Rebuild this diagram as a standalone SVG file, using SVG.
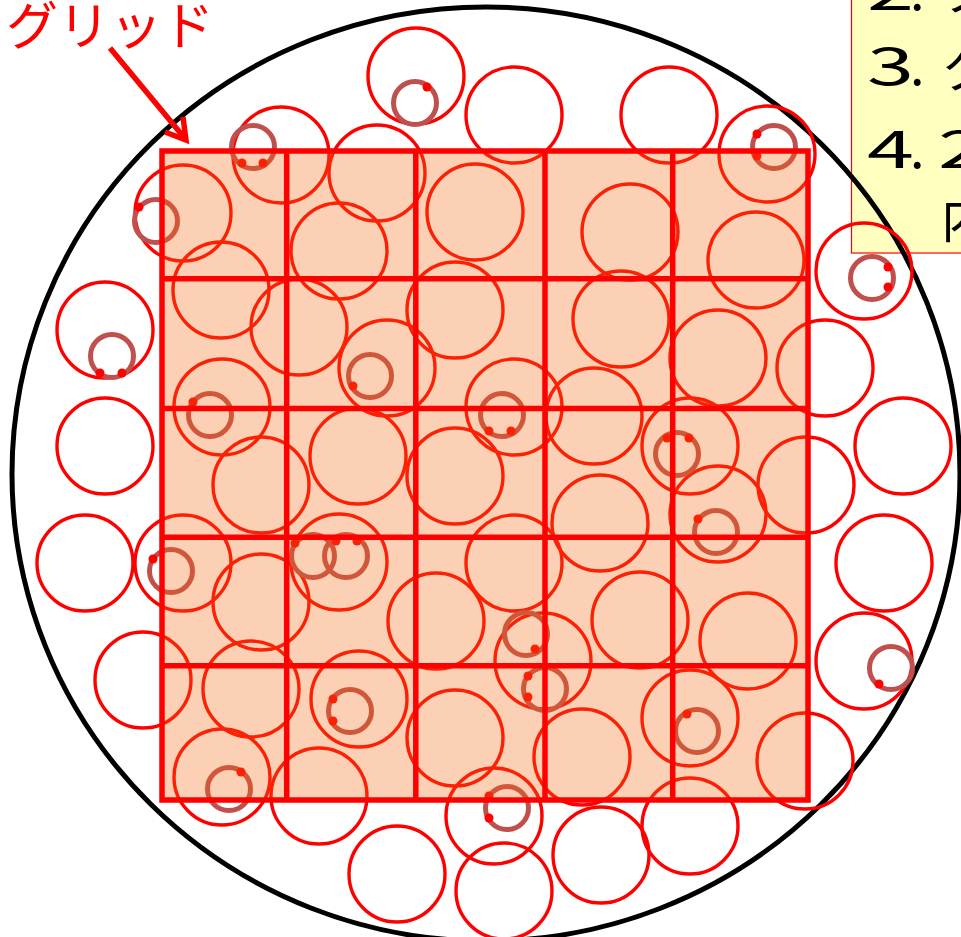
<svg xmlns="http://www.w3.org/2000/svg" width="961" height="937" viewBox="0 0 961 937">
<style>
.big{fill:none;stroke:#FF0000;stroke-width:3.4}
.ring{fill:none;stroke:#C0504D;stroke-width:5}
.dot{fill:#FF0000}
.gl{stroke:#FF0000;stroke-width:5.5;fill:none}
.lst{font-family:"Noto Sans CJK JP","Noto Sans",sans-serif;font-size:52px;fill:#000}
.lbl{font-family:"Noto Sans CJK JP","Noto Sans",sans-serif;font-size:52px;fill:#FF0000}
</style>
<g id="textbox">
<rect x="851.5" y="-10" width="140" height="263" fill="#FFFFC0" stroke="#FF0000" stroke-width="1.2"/>
<text class="lst" x="867" y="10" textLength="47" lengthAdjust="spacingAndGlyphs">2</text>
<text class="lst" x="910" y="10">.</text>
<text class="lst" x="941" y="10">ク</text>
<text class="lst" x="867" y="85" textLength="47" lengthAdjust="spacingAndGlyphs">3</text>
<text class="lst" x="910" y="85">.</text>
<text class="lst" x="941" y="88">ク</text>
<text class="lst" x="867" y="168" textLength="47" lengthAdjust="spacingAndGlyphs">4</text>
<text class="lst" x="910" y="168">.</text>
<text class="lst" x="938" y="168" textLength="47" lengthAdjust="spacingAndGlyphs">2</text>
<text class="lst" x="941" y="238">内</text>
</g>
<ellipse id="wafer" cx="486" cy="474" rx="474" ry="467" fill="none" stroke="#000" stroke-width="5"/>
<g id="circles">
<circle class="big" cx="416" cy="76" r="48"/>
<circle class="big" cx="514" cy="115" r="48"/>
<circle class="big" cx="669" cy="115" r="48"/>
<circle class="big" cx="767" cy="154" r="48"/>
<circle class="big" cx="864" cy="271" r="48"/>
<circle class="big" cx="281" cy="155" r="48"/>
<circle class="big" cx="183" cy="213" r="48"/>
<circle class="big" cx="377" cy="173" r="48"/>
<circle class="big" cx="475" cy="212" r="48"/>
<circle class="big" cx="630" cy="232" r="48"/>
<circle class="big" cx="756" cy="260" r="48"/>
<circle class="big" cx="339" cy="251" r="48"/>
<circle class="big" cx="221" cy="290" r="48"/>
<circle class="big" cx="105" cy="330" r="48"/>
<circle class="big" cx="455" cy="310" r="48"/>
<circle class="big" cx="299" cy="327" r="48"/>
<circle class="big" cx="387" cy="368" r="48"/>
<circle class="big" cx="621" cy="319" r="48"/>
<circle class="big" cx="718" cy="358" r="48"/>
<circle class="big" cx="825" cy="368" r="48"/>
<circle class="big" cx="903" cy="446" r="48"/>
<circle class="big" cx="105" cy="446" r="48"/>
<circle class="big" cx="222" cy="407" r="48"/>
<circle class="big" cx="261" cy="485" r="48"/>
<circle class="big" cx="358" cy="456" r="48"/>
<circle class="big" cx="455" cy="476" r="48"/>
<circle class="big" cx="514" cy="407" r="48"/>
<circle class="big" cx="594" cy="416" r="48"/>
<circle class="big" cx="690" cy="446" r="48"/>
<circle class="big" cx="806" cy="485" r="48"/>
<circle class="big" cx="718" cy="514" r="48"/>
<circle class="big" cx="600" cy="523" r="48"/>
<circle class="big" cx="884" cy="563" r="48"/>
<circle class="big" cx="85" cy="563" r="48"/>
<circle class="big" cx="183" cy="563" r="48"/>
<circle class="big" cx="261" cy="602" r="48"/>
<circle class="big" cx="339" cy="562" r="48"/>
<circle class="big" cx="436" cy="621" r="48"/>
<circle class="big" cx="514" cy="563" r="48"/>
<circle class="big" cx="543" cy="661" r="48"/>
<circle class="big" cx="640" cy="620" r="48"/>
<circle class="big" cx="748" cy="641" r="48"/>
<circle class="big" cx="864" cy="661" r="48"/>
<circle class="big" cx="143" cy="680" r="48"/>
<circle class="big" cx="251" cy="689" r="48"/>
<circle class="big" cx="359" cy="699" r="48"/>
<circle class="big" cx="455" cy="738" r="48"/>
<circle class="big" cx="690" cy="718" r="48"/>
<circle class="big" cx="582" cy="757" r="48"/>
<circle class="big" cx="805" cy="761" r="48"/>
<circle class="big" cx="222" cy="777" r="48"/>
<circle class="big" cx="319" cy="796" r="48"/>
<circle class="big" cx="494" cy="816" r="48"/>
<circle class="big" cx="397" cy="874" r="48"/>
<circle class="big" cx="504" cy="891" r="48"/>
<circle class="big" cx="601" cy="855" r="48"/>
<circle class="big" cx="690" cy="826" r="48"/>
</g>
<g id="rings">
<circle class="ring" cx="415" cy="103" r="21.5"/>
<circle class="ring" cx="774" cy="147" r="21.5"/>
<circle class="ring" cx="872" cy="278" r="21.5"/>
<circle class="ring" cx="253" cy="147" r="21.5"/>
<circle class="ring" cx="156" cy="221" r="21.5"/>
<circle class="ring" cx="112" cy="356" r="21.5"/>
<circle class="ring" cx="370" cy="376" r="21.5"/>
<circle class="ring" cx="210" cy="415" r="21.5"/>
<circle class="ring" cx="502" cy="415" r="21.5"/>
<circle class="ring" cx="677" cy="454" r="21.5"/>
<circle class="ring" cx="716" cy="532" r="21.5"/>
<circle class="ring" cx="171" cy="571" r="21.5"/>
<circle class="ring" cx="313" cy="556" r="21.5"/>
<circle class="ring" cx="346" cy="556" r="21.5"/>
<circle class="ring" cx="526" cy="634" r="21.5"/>
<circle class="ring" cx="545" cy="689" r="21.5"/>
<circle class="ring" cx="891" cy="668" r="21.5"/>
<circle class="ring" cx="350" cy="711" r="21.5"/>
<circle class="ring" cx="697" cy="731" r="21.5"/>
<circle class="ring" cx="229" cy="789" r="21.5"/>
<circle class="ring" cx="507" cy="808" r="21.5"/>
</g>
<g id="dots">
<circle class="dot" cx="427" cy="87" r="4.5"/>
<circle class="dot" cx="757" cy="134" r="4.5"/>
<circle class="dot" cx="757" cy="156" r="4.5"/>
<circle class="dot" cx="888" cy="267" r="4.5"/>
<circle class="dot" cx="888" cy="287" r="4.5"/>
<circle class="dot" cx="242" cy="163" r="4.5"/>
<circle class="dot" cx="263" cy="163" r="4.5"/>
<circle class="dot" cx="139" cy="207" r="4.5"/>
<circle class="dot" cx="100" cy="373" r="4.5"/>
<circle class="dot" cx="122" cy="373" r="4.5"/>
<circle class="dot" cx="353" cy="386" r="4.5"/>
<circle class="dot" cx="193" cy="402" r="4.5"/>
<circle class="dot" cx="489" cy="431" r="4.5"/>
<circle class="dot" cx="511" cy="431" r="4.5"/>
<circle class="dot" cx="667" cy="438" r="4.5"/>
<circle class="dot" cx="689" cy="438" r="4.5"/>
<circle class="dot" cx="698" cy="519" r="4.5"/>
<circle class="dot" cx="153" cy="559" r="4.5"/>
<circle class="dot" cx="295" cy="543" r="4.5"/>
<circle class="dot" cx="336" cy="541" r="4.5"/>
<circle class="dot" cx="357" cy="541" r="4.5"/>
<circle class="dot" cx="535" cy="649" r="4.5"/>
<circle class="dot" cx="528" cy="676" r="4.5"/>
<circle class="dot" cx="528" cy="697" r="4.5"/>
<circle class="dot" cx="879" cy="684" r="4.5"/>
<circle class="dot" cx="333" cy="699" r="4.5"/>
<circle class="dot" cx="333" cy="721" r="4.5"/>
<circle class="dot" cx="687" cy="714" r="4.5"/>
<circle class="dot" cx="241" cy="772" r="4.5"/>
<circle class="dot" cx="489" cy="796" r="4.5"/>
<circle class="dot" cx="489" cy="818" r="4.5"/>
</g>
<g id="grid">
<rect x="162" y="151" width="646" height="649" fill="#F5670D" fill-opacity="0.31"/>
<path class="gl" d="M162,151H808V800H162Z M286.7,151V800 M415.8,151V800 M545,151V800 M672.7,151V800 M162,278.8H808 M162,408.5H808 M162,537.2H808 M162,665.8H808"/>
</g>
<g id="label">
<text class="lbl" x="6" y="45">グリッド</text>
<path d="M110,48L185,138.5" stroke="#FF0000" stroke-width="5.5" fill="none"/>
<path d="M165,132L186,140L183,117" stroke="#FF0000" stroke-width="5.5" fill="none" stroke-linejoin="miter"/>
</g>
</svg>
